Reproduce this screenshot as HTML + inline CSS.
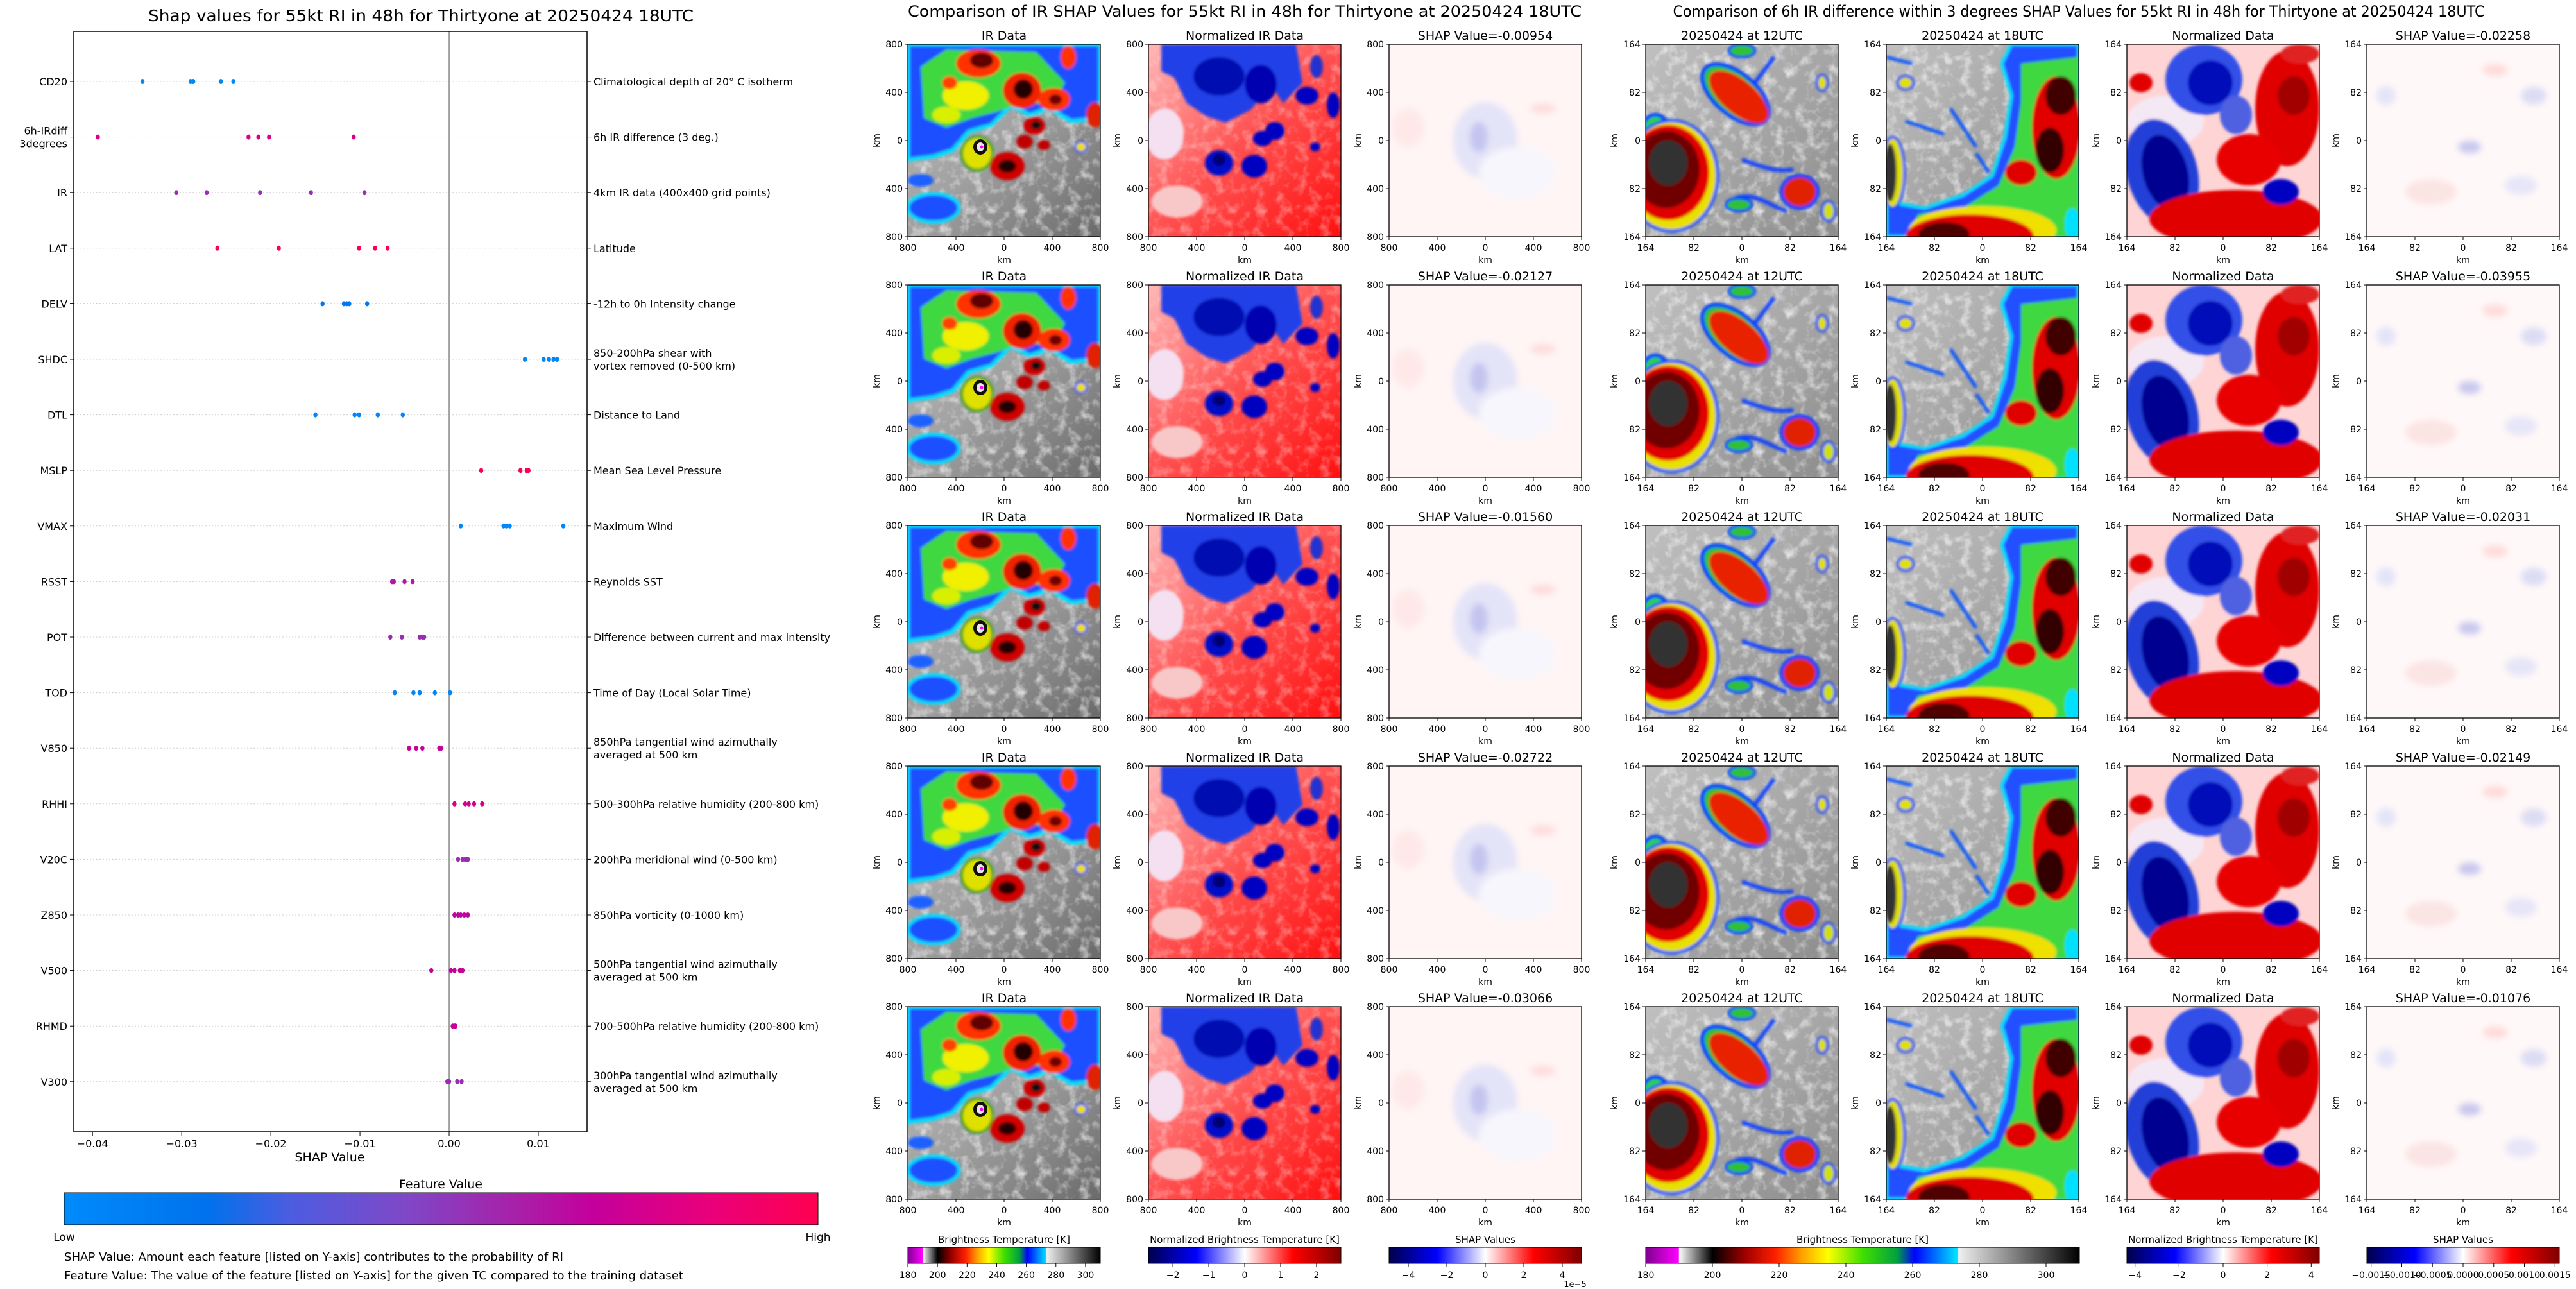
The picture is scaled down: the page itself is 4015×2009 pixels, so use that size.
<!DOCTYPE html>
<html><head><meta charset="utf-8"><style>
html,body{margin:0;padding:0;background:#fff}
svg{display:block}
text{font-family:"DejaVu Sans","Liberation Sans",sans-serif;fill:#000}
</style></head><body>
<svg id="fig" xmlns="http://www.w3.org/2000/svg" width="4015" height="2009" viewBox="0 0 4015 2009">
<defs>
<filter id="b2" x="-5%" y="-5%" width="110%" height="110%"><feGaussianBlur stdDeviation="2"/></filter>
<filter id="b5" x="-10%" y="-10%" width="120%" height="120%"><feGaussianBlur stdDeviation="5"/></filter>
<filter id="tex" x="0" y="0" width="100%" height="100%"><feTurbulence type="fractalNoise" baseFrequency="0.06" numOctaves="3" seed="4"/><feColorMatrix type="matrix" values="0 0 0 0 1  0 0 0 0 1  0 0 0 0 1  0 0 0 1.6 -0.75"/></filter>
<linearGradient id="gray1" x1="0" y1="0" x2="1" y2="1"><stop offset="0" stop-color="#c0c0c0"/><stop offset="0.5" stop-color="#a0a0a0"/><stop offset="1" stop-color="#6a6a6a"/></linearGradient>
<linearGradient id="red1" x1="0" y1="0" x2="1" y2="1"><stop offset="0" stop-color="#ffb8b8"/><stop offset="0.5" stop-color="#ff5050"/><stop offset="1" stop-color="#ff1010"/></linearGradient>
<linearGradient id="gray2" x1="0" y1="0" x2="1" y2="1"><stop offset="0" stop-color="#c0c0c0"/><stop offset="1" stop-color="#8c8c8c"/></linearGradient>
<linearGradient id="featGrad" x1="0" x2="1"><stop offset="0" stop-color="#008bfb"/><stop offset="0.19" stop-color="#0072ec"/><stop offset="0.3" stop-color="#4c5ce0"/><stop offset="0.45" stop-color="#7e48c8"/><stop offset="0.6" stop-color="#a820a8"/><stop offset="0.7" stop-color="#c4009c"/><stop offset="0.85" stop-color="#e8007c"/><stop offset="1" stop-color="#ff0050"/></linearGradient>
<linearGradient id="btGrad" x1="0" x2="1">
<stop offset="0" stop-color="#800090"/><stop offset="0.076" stop-color="#ff00ff"/><stop offset="0.077" stop-color="#ffffff"/><stop offset="0.154" stop-color="#000000"/><stop offset="0.23" stop-color="#a00000"/><stop offset="0.3" stop-color="#ff2000"/><stop offset="0.36" stop-color="#ffa000"/><stop offset="0.42" stop-color="#ffff00"/><stop offset="0.5" stop-color="#40e000"/><stop offset="0.58" stop-color="#00a040"/><stop offset="0.62" stop-color="#0000ff"/><stop offset="0.72" stop-color="#00e8ff"/><stop offset="0.721" stop-color="#f0f0f0"/><stop offset="1" stop-color="#000000"/></linearGradient>
<linearGradient id="seis" x1="0" x2="1"><stop offset="0" stop-color="#00004c"/><stop offset="0.25" stop-color="#0000ff"/><stop offset="0.5" stop-color="#ffffff"/><stop offset="0.75" stop-color="#ff0000"/><stop offset="1" stop-color="#7f0000"/></linearGradient>

<symbol id="irImg" viewBox="0 0 300 300">
<rect width="300" height="300" fill="url(#gray1)"/>
<rect width="300" height="300" filter="url(#tex)"/>
<g filter="url(#b2)">
<path d="M0,0 L300,0 L300,115 L255,120 L220,100 L190,110 L160,96 L130,126 L95,136 L70,165 L40,175 L0,180 Z" fill="#1a50ff" stroke="#00e0ff" stroke-width="6"/>
<ellipse cx="40" cy="255" rx="40" ry="22" fill="#1a50ff" stroke="#00e0ff" stroke-width="5"/>
<ellipse cx="20" cy="212" rx="20" ry="10" fill="#1a60ff"/>
<path d="M20,35 L60,8 L200,12 L245,60 L225,95 L180,90 L140,105 L100,115 L60,130 L25,115 Z" fill="#40d840"/>
<ellipse cx="90" cy="80" rx="36" ry="22" fill="#f0f000"/>
<ellipse cx="60" cy="110" rx="22" ry="13" fill="#d8f000"/>
<ellipse cx="110" cy="30" rx="35" ry="22" fill="#ff3000"/>
<ellipse cx="178" cy="72" rx="30" ry="28" fill="#f02000"/>
<ellipse cx="228" cy="86" rx="25" ry="18" fill="#ff3000"/>
<ellipse cx="292" cy="110" rx="14" ry="20" fill="#e02000"/>
<ellipse cx="65" cy="60" rx="12" ry="10" fill="#ff4000"/>
<ellipse cx="250" cy="20" rx="12" ry="18" fill="#ff3000"/>
<ellipse cx="115" cy="25" rx="18" ry="12" fill="#600000"/>
<ellipse cx="180" cy="70" rx="15" ry="15" fill="#200000"/>
<ellipse cx="230" cy="86" rx="10" ry="8" fill="#700000"/>
<ellipse cx="108" cy="170" rx="24" ry="26" fill="#e0e000" stroke="#20a020" stroke-width="4"/>
<ellipse cx="155" cy="190" rx="27" ry="22" fill="#d00000"/>
<ellipse cx="155" cy="190" rx="14" ry="10" fill="#200000"/>
<ellipse cx="197" cy="127" rx="17" ry="14" fill="#d00000"/>
<ellipse cx="200" cy="126" rx="8" ry="7" fill="#101010"/>
<ellipse cx="182" cy="152" rx="13" ry="11" fill="#c00000"/>
<ellipse cx="212" cy="157" rx="10" ry="8" fill="#c00000"/>
<ellipse cx="270" cy="160" rx="9" ry="8" fill="#f0e000" stroke="#0040ff" stroke-width="3"/>
</g>
<ellipse cx="113" cy="160" rx="11" ry="12" fill="#101010"/>
<ellipse cx="113" cy="160" rx="6" ry="7" fill="#e8e8e8"/>
<circle cx="115" cy="160" r="2.5" fill="#ff00ff"/>
</symbol>

<symbol id="nrmImg" viewBox="0 0 300 300">
<rect width="300" height="300" fill="url(#red1)"/>
<rect width="300" height="300" filter="url(#tex)" opacity="0.6"/>
<g filter="url(#b2)">
<ellipse cx="25" cy="140" rx="30" ry="40" fill="#f4e0f0"/>
<ellipse cx="45" cy="245" rx="40" ry="25" fill="#f8c8c8"/>
<path d="M20,0 L230,0 L240,60 L210,92 L190,62 L160,102 L120,122 L90,112 L60,92 L40,52 L20,42 Z" fill="#2040e8"/>
<ellipse cx="110" cy="50" rx="40" ry="30" fill="#0010b0"/>
<ellipse cx="175" cy="62" rx="25" ry="30" fill="#0000b0"/>
<ellipse cx="110" cy="185" rx="22" ry="20" fill="#0010c8"/>
<ellipse cx="110" cy="180" rx="10" ry="9" fill="#000070"/>
<ellipse cx="165" cy="190" rx="20" ry="18" fill="#0000c0"/>
<ellipse cx="178" cy="147" rx="15" ry="12" fill="#0000c0"/>
<ellipse cx="197" cy="135" rx="15" ry="14" fill="#0000c0"/>
<ellipse cx="247" cy="80" rx="18" ry="14" fill="#0000c0"/>
<ellipse cx="288" cy="95" rx="10" ry="20" fill="#0000c0"/>
<ellipse cx="262" cy="35" rx="10" ry="18" fill="#2030d0"/>
<ellipse cx="260" cy="160" rx="8" ry="7" fill="#0000c0"/>
</g>
</symbol>

<symbol id="shapIrImg" viewBox="0 0 300 300">
<rect width="300" height="300" fill="#fff5f5"/>
<g filter="url(#b5)"><ellipse cx="150" cy="150" rx="50" ry="60" fill="#e4e4f8"/><ellipse cx="140" cy="145" rx="14" ry="24" fill="#c4c4f0"/><ellipse cx="30" cy="130" rx="25" ry="30" fill="#ffe8e8"/><ellipse cx="240" cy="100" rx="20" ry="8" fill="#ffdcdc"/><ellipse cx="200" cy="200" rx="60" ry="40" fill="#f6f6fc"/></g>
</symbol>

<symbol id="utc12Img" viewBox="0 0 300 300">
<rect width="300" height="300" fill="url(#gray2)"/>
<rect width="300" height="300" filter="url(#tex)"/>
<g filter="url(#b2)">
<ellipse cx="15" cy="150" rx="25" ry="40" fill="#30d030" stroke="#0040ff" stroke-width="6"/>
<ellipse cx="40" cy="205" rx="72" ry="86" fill="#e8e000" stroke="#0050ff" stroke-width="5"/>
<ellipse cx="35" cy="200" rx="64" ry="74" fill="#e00000"/>
<ellipse cx="32" cy="195" rx="52" ry="60" fill="#700000"/>
<ellipse cx="35" cy="185" rx="30" ry="35" fill="#303030"/>
<ellipse cx="140" cy="78" rx="62" ry="32" transform="rotate(40 140 78)" fill="#30c030" stroke="#0040ff" stroke-width="6"/>
<ellipse cx="145" cy="82" rx="56" ry="26" transform="rotate(40 145 82)" fill="#e82000"/>
<ellipse cx="240" cy="230" rx="28" ry="25" fill="#e02000" stroke="#0040ff" stroke-width="6"/>
<path d="M150,180 C180,190 200,200 230,195 M140,240 C170,230 190,250 220,260 M170,60 L200,20" stroke="#1040ff" stroke-width="6" fill="none"/>
<ellipse cx="145" cy="250" rx="20" ry="10" fill="#30c030" stroke="#0040ff" stroke-width="4"/>
<ellipse cx="285" cy="260" rx="10" ry="15" fill="#d0e000" stroke="#0040ff" stroke-width="4"/>
<ellipse cx="275" cy="60" rx="8" ry="12" fill="#e0e000" stroke="#0040ff" stroke-width="4"/>
<ellipse cx="150" cy="10" rx="20" ry="10" fill="#30c030" stroke="#0040ff" stroke-width="4"/>
</g>
</symbol>

<symbol id="utc18Img" viewBox="0 0 300 300">
<rect width="300" height="300" fill="url(#gray2)"/>
<rect width="300" height="300" filter="url(#tex)"/>
<g filter="url(#b2)">
<path d="M195,0 L300,0 L300,300 L0,300 L0,245 L60,255 L120,235 L165,205 L185,145 L195,80 L180,30 Z" fill="#2050ff" stroke="#00e0ff" stroke-width="5"/>
<path d="M210,30 L300,20 L300,300 L30,300 L50,265 L120,255 L175,220 L200,160 L210,90 Z" fill="#40d840"/>
<ellipse cx="150" cy="290" rx="115" ry="38" fill="#f0e000"/>
<ellipse cx="130" cy="300" rx="100" ry="35" fill="#e00000"/>
<ellipse cx="90" cy="297" rx="40" ry="20" fill="#500000"/>
<ellipse cx="265" cy="130" rx="38" ry="80" fill="#e00000"/>
<ellipse cx="272" cy="80" rx="24" ry="30" fill="#400000"/>
<ellipse cx="255" cy="165" rx="22" ry="35" fill="#300000"/>
<ellipse cx="210" cy="200" rx="25" ry="20" fill="#e00000"/>
<ellipse cx="10" cy="200" rx="18" ry="55" fill="#e0e000" stroke="#0040ff" stroke-width="4"/>
<ellipse cx="6" cy="200" rx="10" ry="45" fill="#303030"/>
<ellipse cx="30" cy="60" rx="12" ry="10" fill="#e0e000" stroke="#0040ff" stroke-width="4"/>
<path d="M0,20 L40,30 M30,120 L90,140 M100,100 L140,160 M140,170 L160,200" stroke="#0050ff" stroke-width="5" fill="none"/>
<ellipse cx="290" cy="280" rx="12" ry="25" fill="#00e0ff"/>
</g>
</symbol>

<symbol id="n6Img" viewBox="0 0 300 300">
<rect width="300" height="300" fill="#ffd4d4"/>
<g filter="url(#b2)">
<ellipse cx="60" cy="120" rx="60" ry="40" fill="#f4e8f4"/>
<ellipse cx="120" cy="55" rx="60" ry="55" fill="#3050e8"/>
<ellipse cx="130" cy="60" rx="35" ry="35" fill="#0010b8"/>
<ellipse cx="170" cy="110" rx="25" ry="30" fill="#5060e0"/>
<ellipse cx="55" cy="200" rx="55" ry="85" transform="rotate(-15 55 200)" fill="#2040d8"/>
<ellipse cx="60" cy="200" rx="35" ry="60" transform="rotate(-15 60 200)" fill="#000090"/>
<ellipse cx="250" cy="100" rx="50" ry="90" fill="#e00000"/>
<ellipse cx="260" cy="80" rx="25" ry="30" fill="#a00000"/>
<ellipse cx="170" cy="272" rx="135" ry="45" fill="#e00000"/>
<ellipse cx="190" cy="180" rx="50" ry="40" fill="#e80000"/>
<ellipse cx="240" cy="230" rx="28" ry="20" fill="#0000c0"/>
<ellipse cx="22" cy="60" rx="18" ry="15" fill="#e00000"/>
<ellipse cx="270" cy="15" rx="30" ry="15" fill="#e02020"/>
</g>
</symbol>

<symbol id="s6Img" viewBox="0 0 300 300">
<rect width="300" height="300" fill="#fff8f8"/>
<g filter="url(#b5)"><ellipse cx="160" cy="160" rx="18" ry="10" fill="#c8c8ee"/><ellipse cx="260" cy="80" rx="20" ry="14" fill="#dcdcf4"/><ellipse cx="200" cy="40" rx="20" ry="10" fill="#ffdcdc"/><ellipse cx="30" cy="80" rx="15" ry="15" fill="#e4e4f8"/><ellipse cx="100" cy="230" rx="40" ry="20" fill="#fbe4e4"/><ellipse cx="240" cy="220" rx="25" ry="15" fill="#e6e6f8"/></g>
</symbol>
</defs>
<g id="root"></g>
</svg>
<script>
// ---------- Left SHAP beeswarm data ----------
const features = ["CD20","6h-IRdiff\n3degrees","IR","LAT","DELV","SHDC","DTL","MSLP","VMAX","RSST","POT","TOD","V850","RHHI","V20C","Z850","V500","RHMD","V300"];
const descriptions = ["Climatological depth of 20° C isotherm","6h IR difference (3 deg.)","4km IR data (400x400 grid points)","Latitude","-12h to 0h Intensity change","850-200hPa shear with\nvortex removed (0-500 km)","Distance to Land","Mean Sea Level Pressure","Maximum Wind","Reynolds SST","Difference between current and max intensity","Time of Day (Local Solar Time)","850hPa tangential wind azimuthally\naveraged at 500 km","500-300hPa relative humidity (200-800 km)","200hPa meridional wind (0-500 km)","850hPa vorticity (0-1000 km)","500hPa tangential wind azimuthally\naveraged at 500 km","700-500hPa relative humidity (200-800 km)","300hPa tangential wind azimuthally\naveraged at 500 km"];
const shapValues = [
 [-0.0344,-0.0290,-0.0287,-0.0256,-0.0242],
 [-0.0394,-0.0225,-0.0214,-0.0202,-0.0107],
 [-0.0306,-0.0272,-0.0212,-0.0155,-0.0095],
 [-0.0260,-0.0191,-0.0101,-0.0083,-0.0069],
 [-0.0142,-0.0118,-0.0115,-0.0112,-0.0092],
 [0.0085,0.0106,0.0112,0.0117,0.0121],
 [-0.0150,-0.0106,-0.0101,-0.0080,-0.0052],
 [0.0036,0.0080,0.0087,0.0089],
 [0.0013,0.0061,0.0064,0.0068,0.0128],
 [-0.0064,-0.0062,-0.0050,-0.0041],
 [-0.0066,-0.0053,-0.0033,-0.0030,-0.0028],
 [-0.0061,-0.0040,-0.0033,-0.0016,0.0001],
 [-0.0045,-0.0037,-0.0030,-0.0011,-0.0009],
 [0.0006,0.0018,0.0022,0.0028,0.0037],
 [0.0010,0.0015,0.0018,0.0020,0.0021],
 [0.0006,0.0010,0.0013,0.0017,0.0021],
 [-0.0020,0.0002,0.0006,0.0012,0.0015],
 [0.0004,0.0006,0.0007,0.0007],
 [-0.0002,0.0000,0.0009,0.0014]
];
const featureLevels = [0.02,0.8,0.55,0.97,0.15,0.03,0.04,0.97,0.03,0.62,0.55,0.04,0.72,0.78,0.55,0.68,0.72,0.72,0.55];
const xTicks = [-0.04,-0.03,-0.02,-0.01,0.00,0.01];
const xTickLabels = ["\u22120.04","\u22120.03","\u22120.02","\u22120.01","0.00","0.01"];
// ---------- image panels data ----------
const irShapTitles = ["-0.00954","-0.02127","-0.01560","-0.02722","-0.03066"];
const ir6ShapTitles = ["-0.02258","-0.03955","-0.02031","-0.02149","-0.01076"];
const irTickLabels = ["800","400","0","400","800"];
const ir6TickLabels = ["164","82","0","82","164"];
const btTicks = [180,200,220,240,260,280,300];
const nrmTicks = [-2,-1,0,1,2];
const shapTicks = [-4,-2,0,2,4];
const nrm6Ticks = [-4,-2,0,2,4];
const shap6Ticks = [-0.0015,-0.0010,-0.0005,0.0000,0.0005,0.0010,0.0015];

const NS="http://www.w3.org/2000/svg";
const root=document.getElementById('root');
function mk(tag,attrs,parent,txt){const e=document.createElementNS(NS,tag);for(const k in attrs)e.setAttribute(k,attrs[k]);if(txt!==undefined)e.textContent=txt;(parent||root).appendChild(e);return e;}
function colorFor(t){const stops=[[0,[0,139,251]],[0.19,[0,114,236]],[0.3,[76,92,224]],[0.45,[126,72,200]],[0.6,[168,32,168]],[0.7,[196,0,156]],[0.85,[232,0,124]],[1,[255,0,80]]];for(let i=1;i<stops.length;i++){if(t<=stops[i][0]){const a=stops[i-1],b=stops[i];const f=(t-a[0])/(b[0]-a[0]);const c=a[1].map((v,j)=>Math.round(v+(b[1][j]-v)*f));return `rgb(${c[0]},${c[1]},${c[2]})`;}}return 'rgb(255,0,80)';}

// ---------- Left chart ----------
const L={left:115,right:915,top:49,bottom:1764,xmin:-0.0421,xmax:0.01547,row0:127,rowStep:86.6};
const xS=v=>L.left+(v-L.xmin)/(L.xmax-L.xmin)*(L.right-L.left);
const yS=i=>L.row0+i*L.rowStep;
const lg=mk('g',{});


let t=mk('text',{x:656,y:33,'text-anchor':'middle','font-size':25,textLength:850,lengthAdjust:'spacingAndGlyphs'},lg,'Shap values for 55kt RI in 48h for Thirtyone at 20250424 18UTC');

features.forEach((f,i)=>{
  const y=yS(i);
  const gl=mk('line',{x1:L.left,x2:L.right,y1:y,y2:y,stroke:'#d0d0d0','stroke-width':1,'stroke-dasharray':'2,3'},lg);
  
  mk('line',{x1:L.left-6,x2:L.left,y1:y,y2:y,stroke:'#000'},lg);
  mk('line',{x1:L.right,x2:L.right+6,y1:y,y2:y,stroke:'#000'},lg);
  const parts=f.split('\n');
  parts.forEach((p,k)=>{const tt=mk('text',{x:L.left-10,y:y+6+(k-(parts.length-1)/2)*20,'text-anchor':'end','font-size':16},lg,p);
    });
  const dparts=descriptions[i].split('\n');
  dparts.forEach((p,k)=>{const tt=mk('text',{x:L.right+10,y:y+6+(k-(dparts.length-1)/2)*20,'font-size':16},lg,p);
    });
});
const zl=mk('line',{x1:xS(0),x2:xS(0),y1:L.top,y2:L.bottom,stroke:'#888','stroke-width':1.5},lg);

shapValues.forEach((arr,i)=>{arr.forEach(v=>{
  const c=mk('ellipse',{cx:xS(v),cy:yS(i),rx:3.2,ry:4,fill:colorFor(featureLevels[i])},lg);
  
});});
const fr=mk('rect',{x:L.left,y:L.top,width:L.right-L.left,height:L.bottom-L.top,fill:'none',stroke:'#000','stroke-width':1.5},lg);

xTicks.forEach((v,k)=>{const x=xS(v);mk('line',{x1:x,x2:x,y1:L.bottom,y2:L.bottom+6,stroke:'#000'},lg);
  const tt=mk('text',{x:x,y:L.bottom+24,'text-anchor':'middle','font-size':16},lg,xTickLabels[k]);
  });
t=mk('text',{x:514,y:1810,'text-anchor':'middle','font-size':19},lg,'SHAP Value');

t=mk('text',{x:687,y:1852,'text-anchor':'middle','font-size':19},lg,'Feature Value');

t=mk('rect',{x:100,y:1859,width:1175,height:50,fill:'url(#featGrad)',stroke:'#000','stroke-width':1},lg);

t=mk('text',{x:100,y:1934,'text-anchor':'middle','font-size':17},lg,'Low');

t=mk('text',{x:1275,y:1934,'text-anchor':'middle','font-size':17},lg,'High');

t=mk('text',{x:100,y:1965,'font-size':17.5,textLength:778,lengthAdjust:'spacingAndGlyphs'},lg,'SHAP Value: Amount each feature [listed on Y-axis] contributes to the probability of RI');

t=mk('text',{x:100,y:1994,'font-size':17.5,textLength:965,lengthAdjust:'spacingAndGlyphs'},lg,'Feature Value: The value of the feature [listed on Y-axis] for the given TC compared to the training dataset');


// ---------- image panels ----------
t=mk('text',{x:1940,y:26,'text-anchor':'middle','font-size':24,textLength:1050,lengthAdjust:'spacingAndGlyphs'},root,'Comparison of IR SHAP Values for 55kt RI in 48h for Thirtyone at 20250424 18UTC');

t=mk('text',{x:3240,y:26,'text-anchor':'middle','font-size':24,textLength:1265,lengthAdjust:'spacingAndGlyphs'},root,'Comparison of 6h IR difference within 3 degrees SHAP Values for 55kt RI in 48h for Thirtyone at 20250424 18UTC');


function panel(x,y,sym,title,ticks,name){
  const g=mk('g',{});
  
  
  mk('use',{href:'#'+sym,x:x,y:y,width:300,height:300},g);
  mk('rect',{x:x,y:y,width:300,height:300,fill:'none',stroke:'#000','stroke-width':1.3},g);
  const tt=mk('text',{x:x+150,y:y-7,'text-anchor':'middle','font-size':19},g,title);
  
  ticks.forEach((lab,k)=>{const p=k*75;
    mk('line',{x1:x-5,x2:x,y1:y+p,y2:y+p,stroke:'#000'},g);
    mk('line',{x1:x+p,x2:x+p,y1:y+300,y2:y+305,stroke:'#000'},g);
    mk('text',{x:x-8,y:y+p+5,'text-anchor':'end','font-size':14},g,lab);
    mk('text',{x:x+p,y:y+322,'text-anchor':'middle','font-size':14},g,lab);});
  mk('text',{x:x+150,y:y+341,'text-anchor':'middle','font-size':14},g,'km');
  mk('text',{x:x-44,y:y+150,'text-anchor':'middle','font-size':14,transform:`rotate(-90 ${x-44} ${y+150})`},g,'km');
}
const colsL=[1415,1790,2165], colsR=[2565,2940,3315,3689];
for(let r=0;r<5;r++){
  const y=69+375*r;
  panel(colsL[0],y,'irImg','IR Data',irTickLabels,'ir-data-panel');
  panel(colsL[1],y,'nrmImg','Normalized IR Data',irTickLabels,'normalized-ir-panel');
  panel(colsL[2],y,'shapIrImg','SHAP Value='+irShapTitles[r],irTickLabels,'ir-shap-panel');
  panel(colsR[0],y,'utc12Img','20250424 at 12UTC',ir6TickLabels,'ir-12utc-panel');
  panel(colsR[1],y,'utc18Img','20250424 at 18UTC',ir6TickLabels,'ir-18utc-panel');
  panel(colsR[2],y,'n6Img','Normalized Data',ir6TickLabels,'normalized-diff-panel');
  panel(colsR[3],y,'s6Img','SHAP Value='+ir6ShapTitles[r],ir6TickLabels,'diff-shap-panel');
}
function cbar(x,w,grad,title,ticks,vmin,vmax,fmt,name){
  const g=mk('g',{});
  
  
  mk('rect',{x:x,y:1944,width:w,height:25,fill:'url(#'+grad+')',stroke:'#000','stroke-width':1},g);
  mk('text',{x:x+w/2,y:1937,'text-anchor':'middle','font-size':15},g,title);
  ticks.forEach(v=>{const px=x+(v-vmin)/(vmax-vmin)*w;
    mk('line',{x1:px,x2:px,y1:1969,y2:1974,stroke:'#000'},g);
    mk('text',{x:px,y:1992,'text-anchor':'middle','font-size':14},g,fmt(v));});
}
const mfmt=v=>(v<0?'\u2212':'')+Math.abs(v);
cbar(1415,300,'btGrad','Brightness Temperature [K]',btTicks,180,310,v=>String(v),'bt-colorbar');
cbar(1790,300,'seis','Normalized Brightness Temperature [K]',nrmTicks,-2.68,2.68,mfmt,'normalized-colorbar');
cbar(2165,300,'seis','SHAP Values',shapTicks,-5,5,mfmt,'shap-colorbar');
t=mk('text',{x:2455,y:2006,'text-anchor':'middle','font-size':13},root,'1e\u22125');

cbar(2565,676,'btGrad','Brightness Temperature [K]',btTicks,180,310,v=>String(v),'bt6h-colorbar');
cbar(3315,300,'seis','Normalized Brightness Temperature [K]',nrm6Ticks,-4.37,4.37,mfmt,'normalized6h-colorbar');
cbar(3689,300,'seis','SHAP Values',shap6Ticks,-0.00157,0.00157,v=>(v<0?'\u2212':'')+Math.abs(v).toFixed(4),'shap6h-colorbar');
</script>
</body></html>
